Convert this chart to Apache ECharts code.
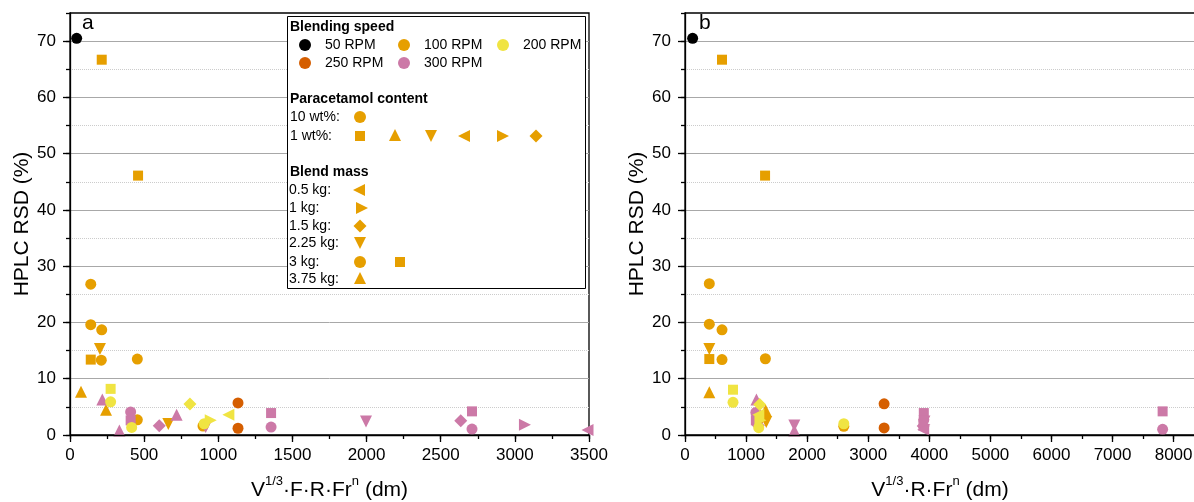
<!DOCTYPE html>
<html>
<head>
<meta charset="utf-8">
<script src="https://cdn.jsdelivr.net/npm/echarts@6/dist/echarts.min.js"></script>
<style>
  html, body { margin: 0; padding: 0; background: #fff; }
  #chart { width: 1194px; height: 502px; }
</style>
</head>
<body>
<div id="chart"></div>
<script>
// ---- Panel a: HPLC RSD (%) vs V^(1/3)·F·R·Fr^n (dm) ----
const a50Circle    = [[45, 70.5]];
const a100Circle   = [[140, 26.8], [140, 19.6], [214, 18.7], [211, 13.3], [454, 13.5], [454, 2.7], [897, 1.6]];
const a100Square   = [[214, 66.7], [459, 46.1], [140, 13.4]];
const a100Up       = [[74, 7.7], [243, 4.5]];
const a100Down     = [[202, 15.3], [663, 1.95]];
const a200Circle   = [[274, 5.9], [416, 1.35], [905, 2.0]];
const a200Square   = [[274, 8.2]];
const a200Diamond  = [[809, 5.5]];
const a200Right    = [[949, 2.6]];
const a200Left     = [[1068, 3.6]];
const a250Circle   = [[1133, 5.7], [1133, 1.2]];
const a300Circle   = [[409, 4.1], [1356, 1.4], [2711, 1.05]];
const a300Square   = [[409, 2.6], [1356, 3.9], [2711, 4.2]];
const a300Up       = [[218, 6.3], [333, 0.8], [719, 3.6]];
const a300Down     = [[915, 1.4], [1996, 2.4]];
const a300Diamond  = [[602, 1.65], [2635, 2.55]];
const a300Right    = [[3068, 1.8]];
const a300Left     = [[3490, 0.9]];

// ---- Panel b: HPLC RSD (%) vs V^(1/3)·R·Fr^n (dm) ----
const b50Circle    = [[125, 70.5]];
const b100Circle   = [[398, 26.9], [398, 19.7], [606, 18.7], [606, 13.4], [1316, 13.55], [1200, 2.7], [2600, 1.55]];
const b100Square   = [[606, 66.7], [1311, 46.1], [398, 13.5]];
const b100Up       = [[398, 7.6], [1320, 4.4]];
const b100Down     = [[398, 15.3], [1330, 2.3]];
const b200Circle   = [[786, 5.8], [1207, 1.3], [2600, 2.0]];
const b200Square   = [[786, 8.05]];
const b200Diamond  = [[1223, 5.4]];
const b200Right    = [[1235, 2.6]];
const b200Left     = [[1200, 3.6]];
const b250Circle   = [[3260, 5.55], [3260, 1.25]];
const b300Circle   = [[1160, 4.0], [3910, 2.7], [7820, 1.0]];
const b300Square   = [[1160, 2.6], [3910, 3.9], [7820, 4.2]];
const b300Up       = [[1170, 6.3], [1790, 0.8], [1190, 3.6]];
const b300Down     = [[1790, 1.7], [3920, 2.4]];
const b300Diamond  = [[1200, 1.7], [3900, 1.6]];
const b300Right    = [[3920, 1.8]];
const b300Left     = [[3900, 0.95]];

// Axis ticks
const yMax = 75, yMajor = 10, yMinor = 5;
const aXMax = 3500, aXMajor = 500, aXMinor = 250;
const bXMax = 8350, bXMajor = 1000, bXMinor = 500;

const FONT = '"Liberation Sans", Arial, Helvetica, sans-serif';
const COLORS = {
  rpm50: '#000000', rpm100: '#E69F00', rpm200: '#F0E442',
  rpm250: '#D55E00', rpm300: '#CC79A7'
};
const SHAPES = {
  circle:  { symbol: 'circle',   size: 11, rotate: 0 },
  square:  { symbol: 'rect',     size: 10, rotate: 0 },
  up:      { symbol: 'triangle', size: 12, rotate: 0 },
  down:    { symbol: 'triangle', size: 12, rotate: 180 },
  left:    { symbol: 'triangle', size: 12, rotate: 90 },
  right:   { symbol: 'triangle', size: 12, rotate: -90 },
  diamond: { symbol: 'diamond',  size: 13, rotate: 0 }
};

function scatter(name, data, color, shape, panel) {
  const s = SHAPES[shape];
  return {
    type: 'scatter', name, data,
    xAxisIndex: panel * 2, yAxisIndex: panel * 2,
    symbol: s.symbol, symbolSize: s.size, symbolRotate: s.rotate,
    itemStyle: { color: COLORS[color], opacity: 1 },
    emphasis: { disabled: true }, silent: true, clip: false
  };
}

const plainNumber = v => String(v);

function xAxes(gridIndex, max, major, minor, title, showMax) {
  return [{
    type: 'value', gridIndex, min: 0, max, interval: major, position: 'bottom',
    name: title, nameLocation: 'middle', nameGap: 40,
    nameTextStyle: {
      color: '#000', fontFamily: FONT, fontSize: 21,
      rich: {
        n: { color: '#000', fontFamily: FONT, fontSize: 21, lineHeight: 26, verticalAlign: 'bottom' },
        s: { color: '#000', fontFamily: FONT, fontSize: 13, lineHeight: 13, verticalAlign: 'top' }
      }
    },
    axisLine: { show: true, onZero: false, lineStyle: { color: '#000', width: 1.3 } },
    axisTick: { show: true, length: 7, lineStyle: { color: '#000', width: 1.3 } },
    axisLabel: { color: '#000', fontFamily: FONT, fontSize: 17, margin: 12, showMaxLabel: showMax,
                 formatter: plainNumber },
    splitLine: { show: false }, z: 3
  }, {
    type: 'value', gridIndex, min: 0, max, interval: minor, position: 'bottom',
    axisLine: { show: false },
    axisTick: { show: true, length: 4, lineStyle: { color: '#000', width: 1.3 } },
    axisLabel: { show: false }, splitLine: { show: false }, z: 3
  }];
}

function yAxes(gridIndex) {
  return [{
    type: 'value', gridIndex, min: 0, max: yMax, interval: yMajor, position: 'left',
    name: 'HPLC RSD (%)', nameLocation: 'middle', nameGap: 35,
    nameTextStyle: { color: '#000', fontFamily: FONT, fontSize: 21 },
    axisLine: { show: true, onZero: false, lineStyle: { color: '#000', width: 1.3 } },
    axisTick: { show: true, length: 7, lineStyle: { color: '#000', width: 1.3 } },
    axisLabel: { color: '#000', fontFamily: FONT, fontSize: 17, margin: 14, showMaxLabel: false,
                 formatter: plainNumber },
    splitLine: { show: true, showMinLine: false, showMaxLine: false,
                 lineStyle: { color: '#a8a8a8', width: 1 } },
    z: 1
  }, {
    type: 'value', gridIndex, min: 0, max: yMax, interval: yMinor, position: 'left',
    axisLine: { show: false },
    axisTick: { show: true, length: 4, lineStyle: { color: '#000', width: 1.3 } },
    axisLabel: { show: false },
    splitLine: { show: true, showMinLine: false, showMaxLine: false,
                 lineStyle: { color: '#cccccc', width: 1, type: 'dotted' } },
    z: 0
  }];
}

function panelSeries(p, d) {
  return [
    scatter('100 RPM, 10 wt%', d.c100, 'rpm100', 'circle', p),
    scatter('100 RPM, 1 wt%', d.s100, 'rpm100', 'square', p),
    scatter('100 RPM, 3.75 kg', d.u100, 'rpm100', 'up', p),
    scatter('100 RPM, 2.25 kg', d.d100, 'rpm100', 'down', p),
    scatter('300 RPM, 10 wt%', d.c300, 'rpm300', 'circle', p),
    scatter('300 RPM, 1 wt%', d.s300, 'rpm300', 'square', p),
    scatter('300 RPM, 3.75 kg', d.u300, 'rpm300', 'up', p),
    scatter('300 RPM, 2.25 kg', d.d300, 'rpm300', 'down', p),
    scatter('300 RPM, 1.5 kg', d.m300, 'rpm300', 'diamond', p),
    scatter('300 RPM, 1 kg', d.r300, 'rpm300', 'right', p),
    scatter('300 RPM, 0.5 kg', d.l300, 'rpm300', 'left', p),
    scatter('200 RPM, 10 wt%', d.c200, 'rpm200', 'circle', p),
    scatter('200 RPM, 1 wt%', d.s200, 'rpm200', 'square', p),
    scatter('200 RPM, 1.5 kg', d.m200, 'rpm200', 'diamond', p),
    scatter('200 RPM, 1 kg', d.r200, 'rpm200', 'right', p),
    scatter('200 RPM, 0.5 kg', d.l200, 'rpm200', 'left', p),
    scatter('250 RPM, 10 wt%', d.c250, 'rpm250', 'circle', p),
    scatter('50 RPM, 10 wt%', d.c50, 'rpm50', 'circle', p)
  ];
}

// ---- Legend box (drawn with graphic elements) ----
const LEG_FONT = '14px ' + FONT;
const LEG_BOLD = 'bold 14px ' + FONT;
const ORANGE = COLORS.rpm100;

function gText(text, x, y, bold) {
  return { type: 'text', x, y, z: 101,
    style: { text, font: bold ? LEG_BOLD : LEG_FONT, fill: '#000', verticalAlign: 'middle', align: 'left' } };
}
function gCircle(cx, cy, fill) {
  return { type: 'circle', z: 101, shape: { cx, cy, r: 6 }, style: { fill } };
}
function gSquare(cx, cy, fill) {
  return { type: 'rect', z: 101, shape: { x: cx - 5, y: cy - 5, width: 10, height: 10 }, style: { fill } };
}
function gTri(cx, cy, dir, fill) {
  const h = 6;
  const pts = {
    up:    [[cx, cy - h], [cx + h, cy + h], [cx - h, cy + h]],
    down:  [[cx - h, cy - h], [cx + h, cy - h], [cx, cy + h]],
    left:  [[cx - h, cy], [cx + h, cy - h], [cx + h, cy + h]],
    right: [[cx + h, cy], [cx - h, cy - h], [cx - h, cy + h]]
  }[dir];
  return { type: 'polygon', z: 101, shape: { points: pts }, style: { fill } };
}
function gDiamond(cx, cy, fill) {
  const h = 6.5;
  return { type: 'polygon', z: 101, shape: { points: [[cx, cy - h], [cx + h, cy], [cx, cy + h], [cx - h, cy]] }, style: { fill } };
}

const legendGraphics = [
  { type: 'rect', z: 100, shape: { x: 287.5, y: 16.5, width: 298, height: 272 },
    style: { fill: '#fff', stroke: '#000', lineWidth: 1 } },
  gText('Blending speed', 290, 27, true),
  gCircle(305, 45, COLORS.rpm50),  gText('50 RPM', 325, 45),
  gCircle(404, 45, COLORS.rpm100), gText('100 RPM', 424, 45),
  gCircle(503, 45, COLORS.rpm200), gText('200 RPM', 523, 45),
  gCircle(305, 63, COLORS.rpm250), gText('250 RPM', 325, 63),
  gCircle(404, 63, COLORS.rpm300), gText('300 RPM', 424, 63),
  gText('Paracetamol content', 290, 99, true),
  gText('10 wt%:', 290, 117), gCircle(360, 117, ORANGE),
  gText('1 wt%:', 290, 136),
  gSquare(360, 136, ORANGE), gTri(395, 135, 'up', ORANGE), gTri(431, 136, 'down', ORANGE),
  gTri(464, 136, 'left', ORANGE), gTri(503, 136, 'right', ORANGE), gDiamond(536, 136, ORANGE),
  gText('Blend mass', 290, 172, true),
  gText('0.5 kg:', 289, 190), gTri(359, 190, 'left', ORANGE),
  gText('1 kg:', 289, 208), gTri(362, 208, 'right', ORANGE),
  gText('1.5 kg:', 289, 226), gDiamond(360, 226, ORANGE),
  gText('2.25 kg:', 289, 243), gTri(360, 243, 'down', ORANGE),
  gText('3 kg:', 289, 262), gCircle(360, 262, ORANGE), gSquare(400, 262, ORANGE),
  gText('3.75 kg:', 289, 279), gTri(360, 278, 'up', ORANGE),
  // panel letters
  { type: 'text', x: 82, y: 34, z: 101, style: { text: 'a', font: '21px ' + FONT, fill: '#000', verticalAlign: 'bottom' } },
  { type: 'text', x: 699, y: 34, z: 101, style: { text: 'b', font: '21px ' + FONT, fill: '#000', verticalAlign: 'bottom' } }
];

const dataA = {
  c50: a50Circle, c100: a100Circle, s100: a100Square, u100: a100Up, d100: a100Down,
  c200: a200Circle, s200: a200Square, m200: a200Diamond, r200: a200Right, l200: a200Left,
  c250: a250Circle,
  c300: a300Circle, s300: a300Square, u300: a300Up, d300: a300Down, m300: a300Diamond, r300: a300Right, l300: a300Left
};
const dataB = {
  c50: b50Circle, c100: b100Circle, s100: b100Square, u100: b100Up, d100: b100Down,
  c200: b200Circle, s200: b200Square, m200: b200Diamond, r200: b200Right, l200: b200Left,
  c250: b250Circle,
  c300: b300Circle, s300: b300Square, u300: b300Up, d300: b300Down, m300: b300Diamond, r300: b300Right, l300: b300Left
};

const chart = echarts.init(document.getElementById('chart'), null, { renderer: 'canvas' });
chart.setOption({
  animation: false,
  backgroundColor: '#fff',
  textStyle: { fontFamily: FONT },
  grid: [
    { left: 70, top: 13, width: 519, height: 422, show: true, borderColor: '#000', borderWidth: 1.3,
      backgroundColor: 'transparent', containLabel: false, outerBoundsMode: 'none' },
    { left: 685, top: 13, width: 510, height: 422, show: true, borderColor: '#000', borderWidth: 1.3,
      backgroundColor: 'transparent', containLabel: false, outerBoundsMode: 'none' }
  ],
  xAxis: [
    ...xAxes(0, aXMax, aXMajor, aXMinor, '{n|V}{s|1/3}{n|·F·R·Fr}{s|n}{n| (dm)}', true),
    ...xAxes(1, bXMax, bXMajor, bXMinor, '{n|V}{s|1/3}{n|·R·Fr}{s|n}{n| (dm)}', false)
  ],
  yAxis: [...yAxes(0), ...yAxes(1)],
  graphic: legendGraphics,
  series: [...panelSeries(0, dataA), ...panelSeries(1, dataB)]
});
</script>
</body>
</html>
